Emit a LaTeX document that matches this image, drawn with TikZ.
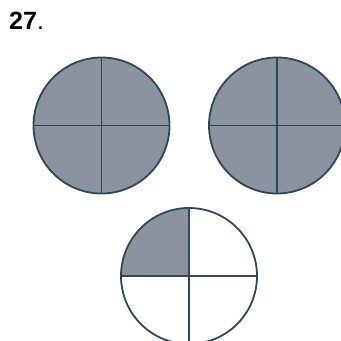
\documentclass[tikz,border=0pt]{standalone}
\usepackage{fontspec}
\setmainfont{Liberation Sans}
\definecolor{piefill}{RGB}{138,147,158}
\definecolor{pieline}{RGB}{45,72,88}
\tikzset{
  pieedge/.style={draw=pieline, line width=1.8pt},
  label27/.style={anchor=base west, inner sep=0pt, font=\fontsize{25}{25}\selectfont}
}
\begin{document}
\begin{tikzpicture}[x=1pt,y=-1pt]
\useasboundingbox (0,0) rectangle (341,341);
\clip (0,0) rectangle (341,341);
\node[label27] (num) at (9,29.5) {\textbf{27}.};
% left circle, fully shaded
\fill[piefill] (101.5,125.5) circle (68);
\draw[pieedge] (101.5,125.5) circle (68);
\draw[pieedge] (101.5,57.5) -- (101.5,193.5);
\draw[pieedge] (33.5,125.5) -- (169.5,125.5);
% right circle, fully shaded
\fill[piefill] (277,125.5) circle (68);
\draw[pieedge] (277,125.5) circle (68);
\draw[pieedge] (277,57.5) -- (277,193.5);
\draw[pieedge] (209,125.5) -- (345,125.5);
% bottom circle, one quarter shaded
\fill[piefill] (189,276) -- (121,276) arc[start angle=180, end angle=270, radius=68] -- cycle;
\draw[pieedge] (189,276) circle (68);
\draw[pieedge] (189,208) -- (189,344);
\draw[pieedge] (121,276) -- (257,276);
\end{tikzpicture}
\end{document}
